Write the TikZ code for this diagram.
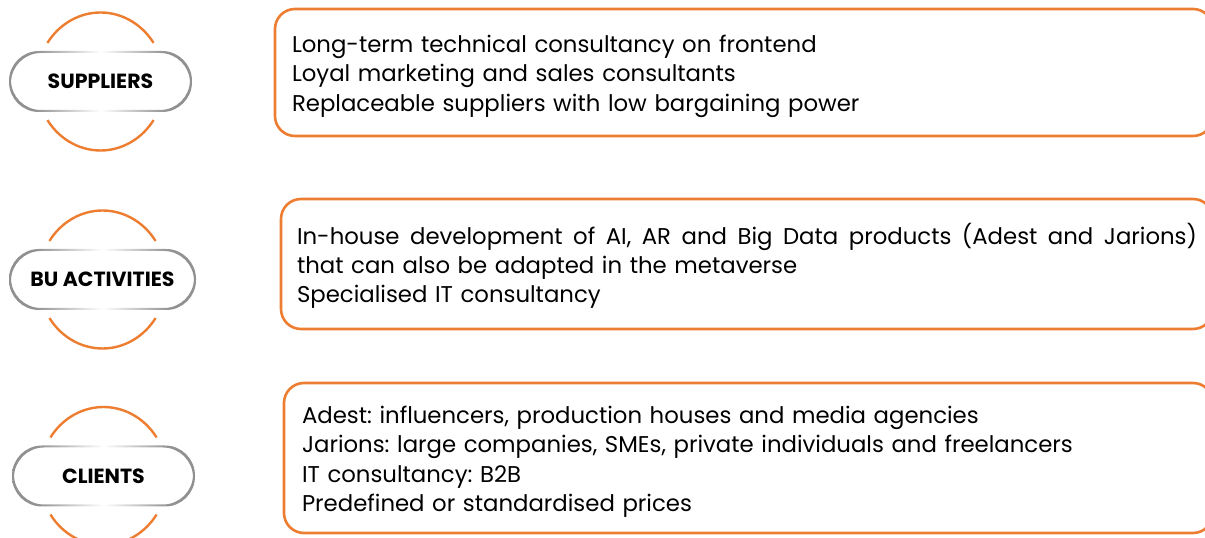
\documentclass[tikz,border=0pt]{standalone}
\usepackage{fontspec}
\setmainfont{Poppins}
\usetikzlibrary{positioning}
\definecolor{AccentOrange}{RGB}{237,125,49}
\definecolor{RimGray}{RGB}{145,145,145}
\pgfdeclarehorizontalshading{pillrim}{100bp}{color(0bp)=(RimGray); color(32bp)=(RimGray);
  color(50bp)=(white); color(68bp)=(RimGray); color(100bp)=(RimGray)}

\begin{document}
\frenchspacing
\begin{tikzpicture}[x=1pt,y=1pt,
    pill/.style={minimum height=61,inner sep=0pt,outer sep=0pt,
                 font=\bfseries\fontsize{20.5}{24}\selectfont},
    box/.style={draw=AccentOrange,line width=2.6pt,rounded corners=20pt,
                anchor=north west,align=left,outer sep=0pt,inner ysep=0pt,
                font=\fontsize{22.8}{29.3}\selectfont,
                execute at begin node={\rule{0pt}{25pt}}},
    halo/.style={AccentOrange,line width=2.4pt}
  ]
  \useasboundingbox (0,0) rectangle (1205,538);

  \node[pill,minimum width=183] (sup) at (100.5,456.5) {SUPPLIERS};
  \node[pill,minimum width=187] (bu) at (102.5,258.5) {BU ACTIVITIES};
  \node[pill,minimum width=183] (cli) at (103.5,62) {CLIENTS};

  \foreach \p in {sup,bu,cli} {
    \shade[shading=pillrim,even odd rule,rounded corners=30pt]
      (\p.south west) rectangle (\p.north east)
      ([shift={(2,2)}]\p.south west) rectangle ([shift={(-2,-2)}]\p.north east);
    \draw[halo] ([shift={(34:64 and 69)}]\p.center)
      arc[start angle=34,end angle=146,x radius=64,y radius=69];
    \draw[halo] ([shift={(214:64 and 69)}]\p.center)
      arc[start angle=214,end angle=326,x radius=64,y radius=69];
  }

  \node[box,text width=904,inner xsep=17,minimum height=127] (supbox) at (275,529)
    {Long-term technical consultancy on frontend\\
     Loyal marketing and sales consultants\\
     Replaceable suppliers with low bargaining power};
  \node[box,text width=900,inner xsep=16,minimum height=130] (bubox) at (281,339)
    {\hbox to 900pt{\spaceskip=0.28em plus 1em\relax
       In-house development of AI, AR and Big Data products (Adest and Jarions)}\\
     that can also be adapted in the metaverse\\
     Specialised IT consultancy};
  \node[box,text width=893,inner xsep=18,minimum height=150] (clibox) at (284,155)
    {Adest: influencers, production houses and media agencies\\
     Jarions: large companies, SMEs, private individuals and freelancers\\
     IT consultancy: B2B\\
     Predefined or standardised prices};
\end{tikzpicture}
\end{document}
